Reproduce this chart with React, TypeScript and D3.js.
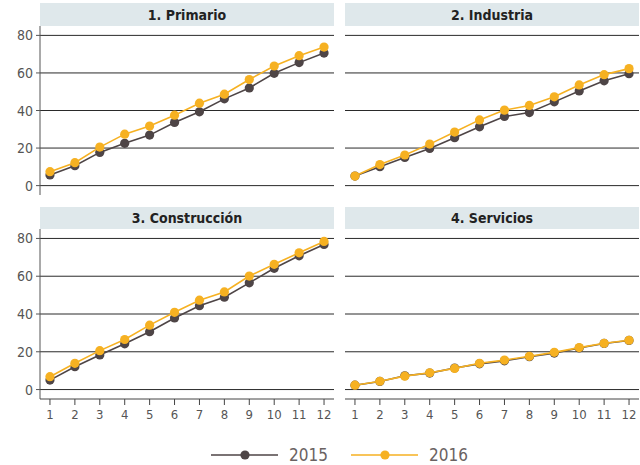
import React from "react";
import * as d3 from "d3";

const months = [1, 2, 3, 4, 5, 6, 7, 8, 9, 10, 11, 12];
const panelTitles = ["1. Primario", "2. Industria", "3. Construcción", "4. Servicios"];
const yTicks = [0, 20, 40, 60, 80];
const seriesNames = ["2015", "2016"];

const primario2015 = [5.7, 10.6, 17.7, 22.5, 26.9, 33.6, 39.3, 46.2, 52.0, 59.8, 65.5, 70.6];
const primario2016 = [7.4, 12.2, 20.5, 27.4, 31.7, 37.5, 43.9, 48.7, 56.5, 63.7, 69.2, 73.8];
const industria2015 = [5.1, 10.1, 15.0, 19.8, 25.5, 31.3, 36.8, 38.9, 44.6, 50.4, 55.8, 59.6];
const industria2016 = [5.1, 11.2, 16.3, 22.1, 28.5, 35.0, 40.2, 42.7, 47.3, 53.6, 59.1, 62.3];
const construccion2015 = [5.0, 12.1, 18.3, 24.2, 30.6, 37.9, 44.4, 48.9, 56.5, 64.2, 70.8, 76.8];
const construccion2016 = [6.8, 13.9, 20.6, 26.5, 34.1, 40.9, 47.3, 51.7, 60.1, 66.3, 72.4, 78.4];
const servicios2015 = [2.3, 4.3, 7.3, 8.7, 11.4, 13.6, 15.2, 17.4, 19.3, 22.0, 24.4, 26.0];
const servicios2016 = [2.3, 4.4, 7.1, 8.9, 11.2, 13.9, 15.6, 17.6, 19.7, 22.2, 24.5, 26.1];

const panelData = [
  [primario2015, primario2016],
  [industria2015, industria2016],
  [construccion2015, construccion2016],
  [servicios2015, servicios2016],
];

const colors = ["#4e4546", "#f6b122"];
const font = "'DejaVu Sans Condensed', 'Roboto', sans-serif";

export default function App() {
  const W = 640, H = 465;
  const cols = [{ x0: 40, x1: 334 }, { x0: 345, x1: 639 }];
  const rows = [{ stripTop: 3, top: 26, bottom: 195 }, { stripTop: 207, top: 229, bottom: 399 }];

  const panels = panelData.map((series, i) => {
    const c = cols[i % 2];
    const r = rows[Math.floor(i / 2)];
    const x = d3.scaleLinear().domain([0.6, 12.4]).range([c.x0, c.x1]);
    const y = d3.scaleLinear().domain([-5, 85]).range([r.bottom, r.top]);
    const line = d3.line<number>().x((_, j) => x(months[j])).y((d) => y(d));
    return (
      <g key={i}>
        <rect x={c.x0} y={r.stripTop} width={c.x1 - c.x0} height={r.top - r.stripTop} fill="#dfe8eb" />
        <text x={(c.x0 + c.x1) / 2} y={(r.stripTop + r.top) / 2 + 5} textAnchor="middle"
          fontSize={14} fontWeight="bold" fill="#222" fontFamily={font}>{panelTitles[i]}</text>
        {yTicks.map((t) => (
          <line key={t} x1={c.x0} x2={c.x1} y1={y(t)} y2={y(t)} stroke="#2a2a2a" strokeWidth={1} />
        ))}
        {i % 2 === 0 && (
          <g>
            <line x1={c.x0} x2={c.x0} y1={r.top} y2={r.bottom} stroke="#555" strokeWidth={1} />
            {yTicks.map((t) => (
              <g key={t}>
                <line x1={c.x0 - 4} x2={c.x0} y1={y(t)} y2={y(t)} stroke="#555" />
                <text x={c.x0 - 7} y={y(t) + 5} textAnchor="end" fontSize={14} fill="#555" fontFamily={font}>{t}</text>
              </g>
            ))}
          </g>
        )}
        {i >= 2 && (
          <g>
            <line x1={c.x0} x2={c.x1} y1={r.bottom} y2={r.bottom} stroke="#444" strokeWidth={1} />
            {months.map((m) => (
              <g key={m}>
                <line x1={x(m)} x2={x(m)} y1={r.bottom} y2={r.bottom + 6} stroke="#444" />
                <text x={x(m)} y={r.bottom + 20} textAnchor="middle" fontSize={13} fill="#555" fontFamily={font}>{m}</text>
              </g>
            ))}
          </g>
        )}
        {series.map((vals, s) => (
          <g key={s}>
            <path d={line(vals) || ""} fill="none" stroke={colors[s]} strokeWidth={1.6} />
            {vals.map((v, j) => (
              <circle key={j} cx={x(months[j])} cy={y(v)} r={4.6} fill={colors[s]} />
            ))}
          </g>
        ))}
      </g>
    );
  });

  const legendItems = [{ x: 211 }, { x: 351 }];

  return (
    <svg width={W} height={H} style={{ position: "absolute", left: 0, top: 0, background: "#fff" }}>
      {panels}
      {seriesNames.map((name, s) => {
        const lx = legendItems[s].x;
        return (
          <g key={name}>
            <line x1={lx} x2={lx + 67} y1={455} y2={455} stroke={colors[s]} strokeWidth={1.6} />
            <circle cx={lx + 34} cy={455} r={4.6} fill={colors[s]} />
            <text x={lx + 78} y={461} fontSize={17} fill="#6a6262" fontFamily={font}>{name}</text>
          </g>
        );
      })}
    </svg>
  );
}
